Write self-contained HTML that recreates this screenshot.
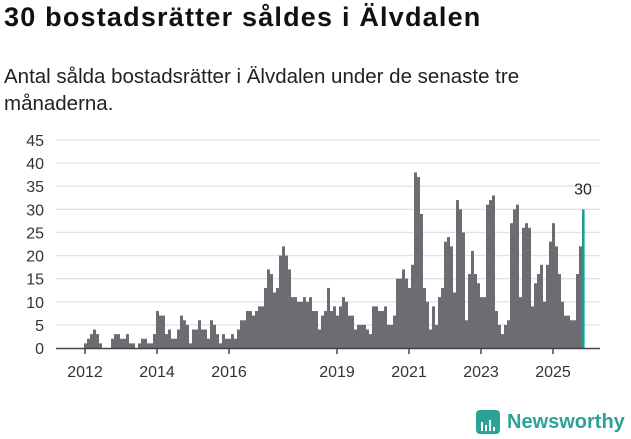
<!DOCTYPE html>
<html><head><meta charset="utf-8"><style>
body{margin:0;width:631px;height:439px;background:#fff;font-family:"Liberation Sans","DejaVu Sans",sans-serif;overflow:hidden;position:relative}
h1{position:absolute;left:4px;top:2px;margin:0;font-size:27px;font-weight:bold;color:#111;letter-spacing:1.2px}
.sub{position:absolute;left:4px;top:63px;margin:0;font-size:20.5px;line-height:27px;color:#222;width:620px}
svg{position:absolute;left:0;top:0}
</style></head><body>
<h1>30 bostadsrätter såldes i Älvdalen</h1>
<p class="sub">Antal sålda bostadsrätter i Älvdalen under de senaste tre månaderna.</p>
<svg id="chart" width="631" height="439"></svg>
<script>
const years=[2012,2013,2014,2015,2016,2017,2018,2019,2020,2021,2022,2023,2024,2025];
const values=[
1,2,3,4,3,1,0,0,0,2,3,3,
2,2,3,1,1,0,1,2,2,1,1,3,
8,7,7,3,4,2,2,4,7,6,5,1,
4,4,6,4,4,2,6,5,3,1,3,2,
2,3,2,4,6,6,8,8,7,8,9,9,
13,17,16,12,13,20,22,20,17,11,11,10,
10,11,10,11,8,8,4,7,8,13,8,9,
7,9,11,10,7,7,4,5,5,5,4,3,
9,9,8,8,9,5,5,7,15,15,17,15,
13,18,38,37,29,13,10,4,9,5,11,13,
23,24,22,12,32,30,25,6,16,21,16,14,
11,11,31,32,33,8,5,3,5,6,27,30,
31,11,26,27,26,9,14,16,18,10,18,23,
27,22,16,10,7,7,6,6,16,22,30];
const yTicks=[0,5,10,15,20,25,30,35,40,45];
const xLabels=[2012,2014,2016,2019,2021,2023,2025];
const ns='http://www.w3.org/2000/svg';
const svg=document.getElementById('chart');
const y=v=>348-v*(208/45);
const x=i=>84+3*i;
const xYear=yr=>84+36*(yr-2012);
function mk(t,a){const e=document.createElementNS(ns,t);for(const k in a)e.setAttribute(k,a[k]);svg.appendChild(e);return e;}
yTicks.forEach(t=>{
 if(t>0){const g=mk('line',{x1:56,x2:600,y1:y(t),y2:y(t),stroke:'#e2e2e2','stroke-width':1.3});
 
 }
 const l=mk('text',{x:44,y:y(t)+6,'text-anchor':'end','font-size':16,fill:'#333'});
 l.textContent=t;
 
 
});
values.forEach((v,i)=>{
 const last=i===values.length-1;
 const r=mk('rect',{x:x(i),y:y(v),width:last?2.6:3,height:348-y(v),fill:last?'#1a9e8f':'#6d6c72'});
 
 
});
const li=values.length-1;
const lab=mk('text',{x:x(li)+1,y:y(values[li])-15,'text-anchor':'middle','font-size':16,fill:'#222'});
lab.textContent=values[li];


const base=mk('line',{x1:56,x2:600,y1:348.5,y2:348.5,stroke:'#444','stroke-width':1.5});


xLabels.forEach(yr=>{
 const tk=mk('line',{x1:xYear(yr)+1,x2:xYear(yr)+1,y1:348,y2:354,stroke:'#444','stroke-width':1.5});
 
 
 const t=mk('text',{x:xYear(yr)+1,y:377,'text-anchor':'middle','font-size':16,fill:'#333'});
 t.textContent=yr;
 
 
});
</script>
<svg width="631" height="439" style="pointer-events:none">
<rect x="476" y="410" width="24" height="24" rx="4" fill="#2aa395"/>
<path d="M482 431v-9M486 431v-6M490 431v-11M494 431v-4" stroke="#fff" stroke-width="2"/>
<text x="507" y="428" font-size="20" font-weight="bold" fill="#2aa395" font-family="Liberation Sans, sans-serif">Newsworthy</text>
</svg>
</body></html>
